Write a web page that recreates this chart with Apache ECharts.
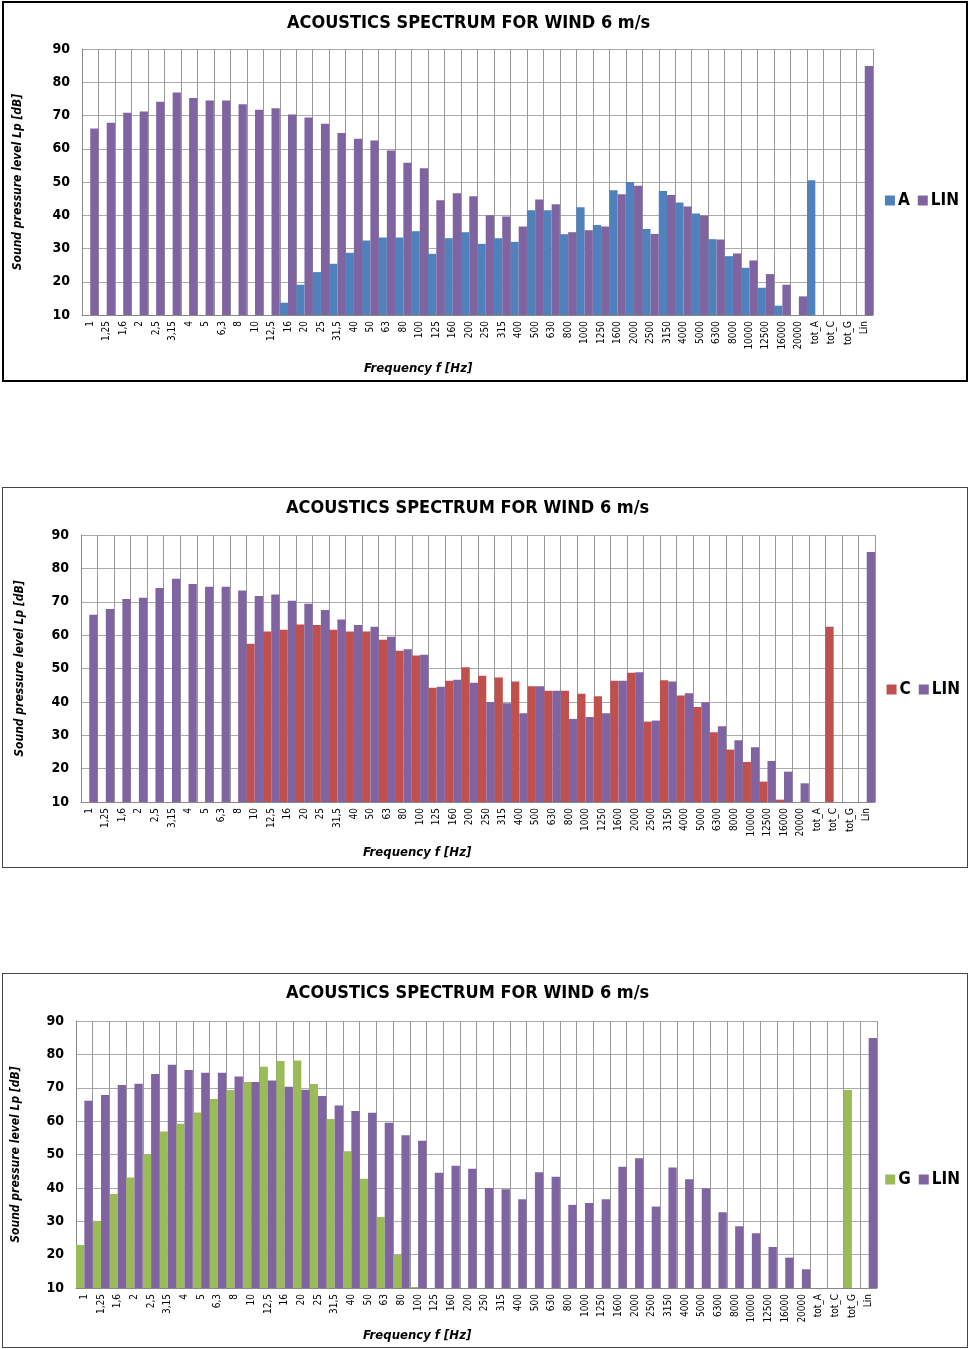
<!DOCTYPE html>
<html><head><meta charset="utf-8">
<script src="https://cdn.jsdelivr.net/npm/echarts@6/dist/echarts.min.js"></script>
<style>
body{margin:0;background:#fff;width:973px;height:1349px;position:relative;overflow:hidden}
.p{position:absolute;left:2px;width:966px;border:2px solid #000;box-sizing:border-box}
</style></head><body>
<div id="c1" class="p" style="top:1px;height:381px"></div>
<div id="c2" class="p" style="top:487px;height:381px;border-width:1px;border-color:#444"></div>
<div id="c3" class="p" style="top:973px;height:375px;border-width:1px;border-color:#444"></div>
<script>
const categories=['1','1,25','1,6','2','2,5','3,15','4','5','6,3','8','10','12,5','16','20','25','31,5','40','50','63','80','100','125','160','200','250','315','400','500','630','800','1000','1250','1600','2000','2500','3150','4000','5000','6300','8000','10000','12500','16000','20000','tot_A','tot_C','tot_G','Lin'];
const LIN=[66.1,67.8,70.8,71.2,74.1,76.9,75.3,74.5,74.5,73.4,71.7,72.2,70.3,69.4,67.5,64.7,63,62.5,59.5,55.8,54.1,44.5,46.6,45.7,40,39.6,36.6,44.7,43.3,34.9,35.5,36.6,46.3,48.9,34.4,46.1,42.6,39.9,32.7,28.5,26.4,22.3,19.1,15.6,null,null,null,84.9];
const A_W=[null,null,null,null,null,null,null,null,null,null,null,null,13.7,19.1,22.9,25.4,28.7,32.4,33.3,33.3,35.2,28.4,33.1,34.9,31.4,33.1,32.0,41.5,41.5,34.3,42.4,37.1,47.5,50.0,35.9,47.3,43.8,40.5,32.8,27.7,24.2,18.2,12.8,9.8,50.5,null,null,null];
const C_W=[null,null,null,null,null,null,null,null,null,null,57.4,61.1,61.6,63.2,63,61.6,61.1,61.1,58.6,55.3,53.9,44.2,46.3,50.4,47.8,47.3,46.1,44.7,43.3,43.3,42.4,41.7,46.3,48.7,34.1,46.5,41.9,38.5,30.9,25.7,22,16.1,10.7,9.8,null,62.5,null,null];
const G_W=[22.9,30.1,38.2,43.1,50.1,56.9,59.2,62.6,66.6,69.3,71.7,76.3,78,78.2,71.1,60.6,51,42.7,31.3,19.9,10.3,9.8,null,null,null,null,null,null,null,null,null,null,null,null,null,null,null,null,null,null,null,null,null,null,null,null,69.3,null];
const yTicks=[10,20,30,40,50,60,70,80,90];
const TITLE='ACOUSTICS SPECTRUM FOR WIND 6 m/s';
const FF='"DejaVu Sans Condensed","Liberation Sans",sans-serif';
function make(id,name,data,color,grid,legTop,titleTop,xNameTop,yNameLeft){
  const ch=echarts.init(document.getElementById(id));
  const mid=grid.top+grid.height/2;
  ch.setOption({
    animation:false,
    title:{text:TITLE,left:278,top:titleTop,textStyle:{fontFamily:FF,fontSize:18,fontWeight:'bold',color:'#000'}},
    legend:{right:2,top:legTop,itemWidth:10,itemHeight:10,itemGap:8,icon:'rect',
      textStyle:{fontFamily:FF,fontSize:17,fontWeight:'bold',color:'#000',padding:[0,0,0,-2]},data:[name,'LIN']},
    graphic:[
      {type:'text',left:360,top:xNameTop,style:{text:'Frequency f [Hz]',font:'italic bold 13px '+FF,fill:'#000'}},
      {type:'text',x:yNameLeft,y:mid,rotation:Math.PI/2,style:{text:'Sound pressure level Lp [dB]',font:'italic bold 12px '+FF,fill:'#000',align:'center',verticalAlign:'middle'}}
    ],
    grid:grid,
    xAxis:{type:'category',data:categories,
      axisLine:{lineStyle:{color:'#888'}},axisTick:{show:false},
      axisLabel:{interval:0,rotate:90,fontFamily:FF,fontSize:10,color:'#000',margin:6},
      splitLine:{show:true,lineStyle:{color:'#999'}}},
    yAxis:{type:'value',min:10,max:90,interval:10,
      axisLine:{show:true,lineStyle:{color:'#888'}},
      axisLabel:{fontFamily:FF,fontSize:14,fontWeight:'bold',color:'#000',margin:12,formatter:v=>yTicks.includes(v)?v:''},
      splitLine:{lineStyle:{color:'#aaa'}}},
    series:[
      {name:name,type:'bar',data:data,itemStyle:{color:color},barGap:'0%',barCategoryGap:'0%'},
      {name:'LIN',type:'bar',data:LIN,itemStyle:{color:'#8064A2'}}
    ]
  });
}
make('c1','A',A_W,'#4F81BD',{left:78,right:93,top:46,height:266},184,6,359,14);
make('c2','C',C_W,'#C0504D',{left:78,right:92,top:47,height:267},188,6,358,17);
make('c3','G',G_W,'#9BBB59',{left:73,right:90,top:47,height:267},192,5,355,13);
</script></body></html>
